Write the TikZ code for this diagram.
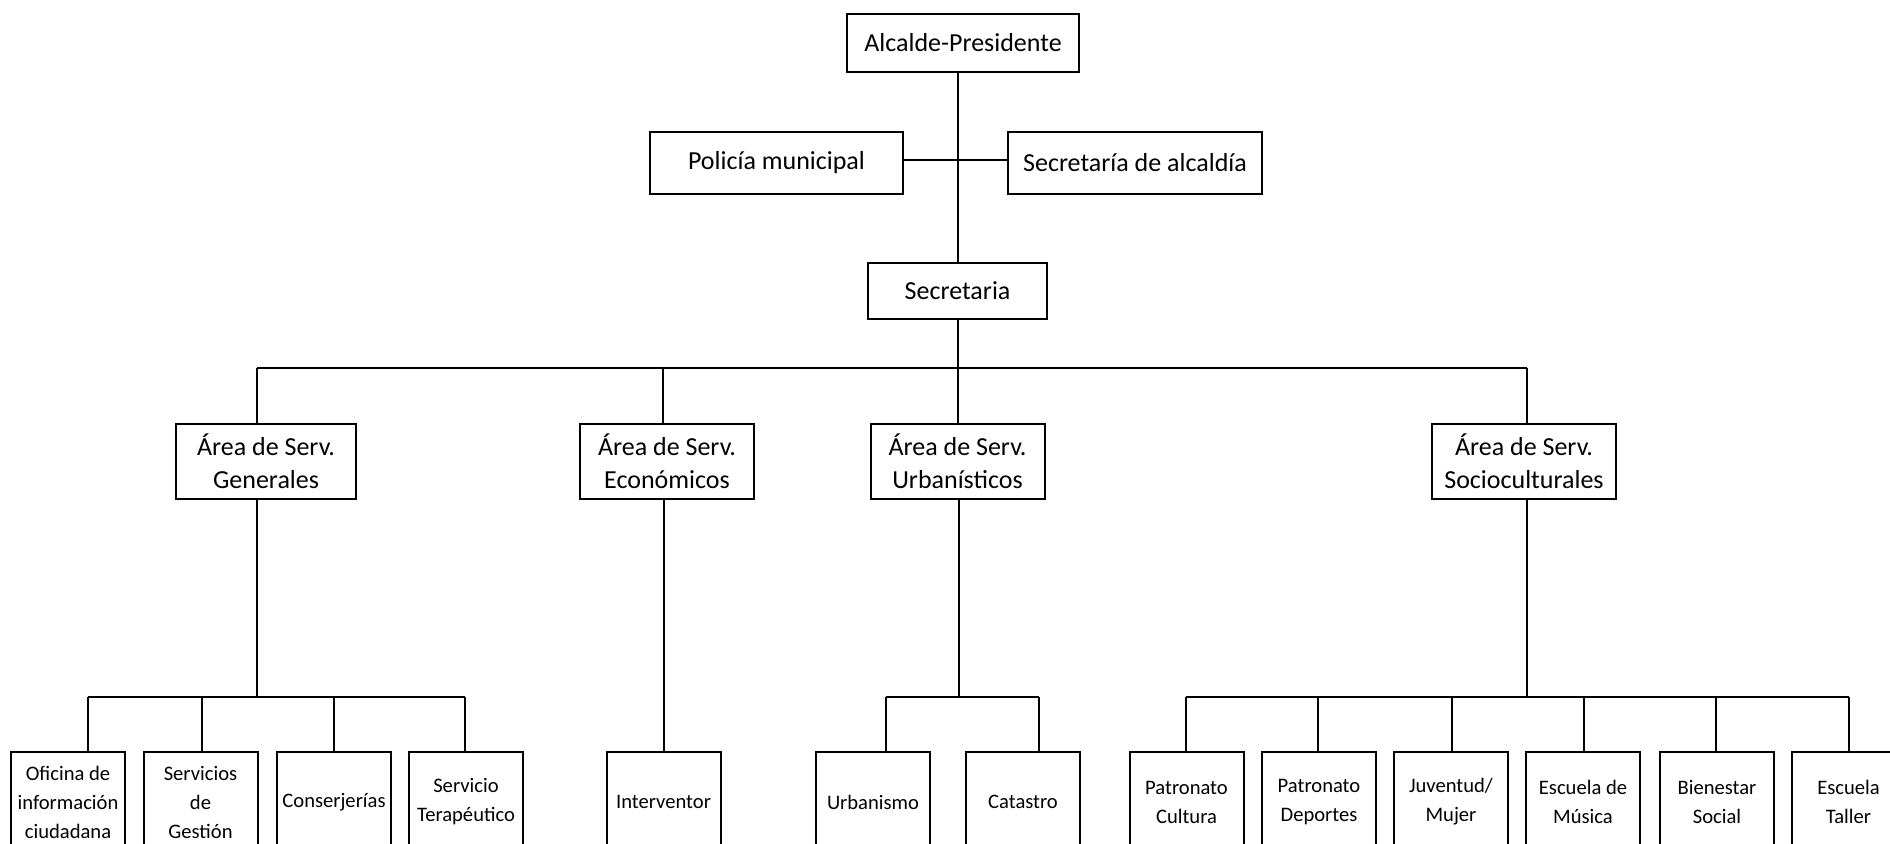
\documentclass[tikz,border=0pt]{standalone}
\usepackage{fontspec}
\setmainfont{Carlito}
\begin{document}
\begin{tikzpicture}[x=0.5pt,y=-0.5pt, line width=1pt,
  box/.style={draw, line width=1pt, inner sep=0pt, align=center, font=\fontsize{13}{16.5}\selectfont},
  leaf/.style={draw, line width=1pt, inner sep=0pt, align=center, minimum width=57pt, minimum height=50pt, font=\fontsize{10.3}{14.5}\selectfont}]
\useasboundingbox (0,0) rectangle (1890,844);
\fill[white] (0,0) rectangle (1890,844);
\clip (0,0) rectangle (1890,844);

% top levels
\node[box, minimum width=116pt, minimum height=29pt] (alc) at (963,43) {Alcalde-Presidente};
\node[box, minimum width=126.5pt, minimum height=31pt] (pol) at (776.5,163) {Policía municipal};
\node[box, minimum width=127pt, minimum height=31pt] (sea) at (1135,163) {Secretaría de alcaldía};
\node[box, minimum width=89.5pt, minimum height=28pt] (sec) at (957.5,291) {Secretaria};

\draw (alc.south -| sec.north) -- (sec.north);
\draw ([yshift=1.5pt]pol.east) -- ([yshift=1.5pt]sea.west);

% areas
\node[box, minimum width=90pt, minimum height=37.5pt] (gen) at (266,461.5) {Área de Serv.\\Generales};
\node[box, minimum width=87pt, minimum height=37.5pt] (eco) at (667,461.5) {Área de Serv.\\Económicos};
\node[box, minimum width=87pt, minimum height=37.5pt] (urb) at (957.5,461.5) {Área de Serv.\\Urbanísticos};
\node[box, minimum width=92pt, minimum height=37.5pt] (soc) at (1524,461.5) {Área de Serv.\\Socioculturales};

\coordinate (b2L) at (257,368);
\coordinate (b2E) at (663,368);
\coordinate (b2R) at (1527,368);
\draw (b2L) -- (b2R);
\draw (sec.south) -- (urb.north);
\draw (b2L) -- (b2L |- gen.north);
\draw (b2E) -- (b2E |- eco.north);
\draw (b2R) -- (b2R |- soc.north);

% leaves
\node[leaf] (c1) at (68,802) {Oficina de\\información\\ciudadana};
\node[leaf] (c2) at (200.5,802) {Servicios\\de\\Gestión};
\node[leaf] (c3) at (334,802) {Conserjerías};
\node[leaf] (c4) at (466,802) {Servicio\\Terapéutico};
\node[leaf] (c5) at (663.5,802) {Interventor};
\node[leaf] (c6) at (873,802) {Urbanismo};
\node[leaf] (c7) at (1023,802) {Catastro};
\node[leaf] (c8) at (1186.5,802) {Patronato\\Cultura};
\node[leaf] (c9) at (1319,802) {Patronato\\Deportes};
\node[leaf] (c10) at (1451,802) {Juventud/\\Mujer};
\node[leaf] (c11) at (1583,802) {Escuela de\\Música};
\node[leaf] (c12) at (1717,802) {Bienestar\\Social};
\node[leaf] (c13) at (1848.5,802) {Escuela\\Taller};

% generales branch
\coordinate (g3) at (257,697);
\coordinate (j1) at (88,697);
\coordinate (j2) at (201.5,697);
\coordinate (j3) at (334,697);
\coordinate (j4) at (465,697);
\draw (g3 |- gen.south) -- (g3);
\draw (j1) -- (j4);
\foreach \j/\c in {j1/c1,j2/c2,j3/c3,j4/c4} \draw (\j) -- (\j |- \c.north);

% economicos
\draw (c5.north |- eco.south) -- (c5.north);

% urbanisticos
\coordinate (u3) at (959,697);
\coordinate (j6) at (886,697);
\coordinate (j7) at (1039,697);
\draw (u3 |- urb.south) -- (u3);
\draw (j6) -- (j7);
\draw (j6) -- (j6 |- c6.north);
\draw (j7) -- (j7 |- c7.north);

% socioculturales
\coordinate (s3) at (1527,697);
\coordinate (j8) at (1185.5,697);
\coordinate (j9) at (1318,697);
\coordinate (j10) at (1452,697);
\coordinate (j11) at (1584,697);
\coordinate (j12) at (1716,697);
\coordinate (j13) at (1848.5,697);
\draw (s3 |- soc.south) -- (s3);
\draw (j8) -- (j13);
\foreach \j/\c in {j8/c8,j9/c9,j10/c10,j11/c11,j12/c12,j13/c13} \draw (\j) -- (\j |- \c.north);
\end{tikzpicture}
\end{document}
